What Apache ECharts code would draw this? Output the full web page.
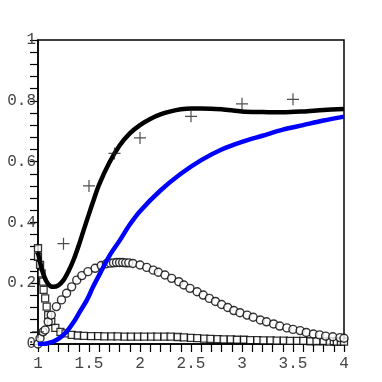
<!DOCTYPE html>
<html><head><meta charset="utf-8">
<script src="https://cdn.jsdelivr.net/npm/echarts@6/dist/echarts.min.js"></script>
<style>html,body{margin:0;padding:0;background:#fff}#c{width:382px;height:382px}</style>
</head><body><div id="c"></div>
<script>
// Black thick curve
const blackX = [1.0,1.05,1.1,1.15,1.2,1.25,1.3,1.35,1.4,1.45,1.5,1.55,1.6,1.7,1.8,1.9,2.0,2.1,2.2,2.3,2.4,2.5,2.6,2.8,3.0,3.2,3.4,3.6,3.8,4.0];
const blackY = [0.30,0.232,0.197,0.188,0.193,0.21,0.24,0.278,0.325,0.377,0.428,0.478,0.525,0.597,0.653,0.693,0.72,0.74,0.755,0.765,0.772,0.775,0.775,0.772,0.765,0.763,0.762,0.765,0.77,0.773];
// Blue thick curve
const blueX = [1.0,1.05,1.1,1.15,1.22,1.28,1.35,1.41,1.48,1.54,1.61,1.7,1.8,1.9,2.0,2.2,2.4,2.6,2.8,3.0,3.2,3.4,3.6,3.8,4.0];
const blueY = [0.0,0.0,0.003,0.008,0.022,0.04,0.072,0.106,0.145,0.188,0.233,0.29,0.34,0.393,0.437,0.505,0.56,0.605,0.64,0.665,0.685,0.705,0.72,0.735,0.748];
// Plus markers
const plusX = [1.0,1.25,1.5,1.75,2.0,2.5,3.0,3.5];
const plusY = [0.04,0.33,0.52,0.627,0.678,0.749,0.79,0.805];
// Circle markers
const circX = [1.0,1.02,1.05,1.07,1.10,1.13,1.18,1.23,1.28,1.33,1.38,1.43,1.49,1.56,1.62,1.67,1.71,1.74,1.77,1.80,1.83,1.86,1.89,1.93,2.0,2.066,2.13,2.18,2.245,2.31,2.38,2.43,2.49,2.56,2.62,2.68,2.74,2.80,2.86,2.92,2.98,3.05,3.11,3.18,3.24,3.31,3.37,3.44,3.50,3.57,3.63,3.70,3.76,3.82,3.89,3.96,4.0];
const circY = [0.0,0.019,0.04,0.046,0.073,0.095,0.123,0.145,0.167,0.188,0.21,0.225,0.238,0.249,0.258,0.264,0.266,0.267,0.268,0.268,0.268,0.267,0.267,0.265,0.26,0.252,0.243,0.236,0.227,0.216,0.205,0.194,0.183,0.172,0.161,0.15,0.14,0.13,0.12,0.11,0.103,0.095,0.088,0.079,0.073,0.066,0.059,0.053,0.048,0.044,0.038,0.033,0.030,0.026,0.024,0.021,0.019];
// Square markers
const sqX = [1.0,1.0,1.02,1.035,1.05,1.055,1.07,1.085,1.10,1.13,1.17,1.22,1.27,1.33,1.39,1.45,1.52,1.59,1.65,1.72,1.78,1.85,1.91,1.98,2.04,2.11,2.17,2.24,2.30,2.37,2.43,2.50,2.56,2.63,2.69,2.76,2.82,2.89,2.95,3.02,3.08,3.15,3.21,3.28,3.34,3.41,3.47,3.54,3.60,3.67,3.73,3.80,3.86,3.90,3.93,3.97,4.0];
const sqY = [0.315,0.287,0.26,0.232,0.205,0.178,0.15,0.123,0.095,0.073,0.053,0.04,0.035,0.03,0.028,0.027,0.026,0.026,0.025,0.025,0.025,0.024,0.024,0.024,0.024,0.024,0.024,0.024,0.024,0.023,0.022,0.02,0.019,0.018,0.017,0.016,0.015,0.015,0.014,0.014,0.013,0.013,0.012,0.012,0.011,0.011,0.010,0.010,0.010,0.009,0.009,0.009,0.008,0.009,0.008,0.008,0.008];

const pairs = (xs, ys) => xs.map((x, i) => [x, ys[i]]);
const labelFont = {fontFamily: 'Liberation Mono', fontSize: 16, color: '#444'};
const chart = echarts.init(document.getElementById('c'));
chart.setOption({
  animation: false,
  backgroundColor: '#fff',
  grid: {left: 38, right: 38, top: 40, bottom: 38, show: true, borderColor: '#000', borderWidth: 1.5},
  xAxis: {
    type: 'value', min: 1, max: 4, interval: 0.5,
    axisLine: {lineStyle: {color: '#000', width: 1.5}},
    axisTick: {length: 8, lineStyle: {color: '#000', width: 1.2}},
    minorTick: {show: true, splitNumber: 5, length: 8, lineStyle: {color: '#000', width: 1.2}},
    splitLine: {show: false},
    axisLabel: Object.assign({margin: 12}, labelFont)
  },
  yAxis: {
    type: 'value', min: 0, max: 1, interval: 0.2,
    axisLine: {lineStyle: {color: '#000', width: 1.5}},
    axisTick: {length: 8, lineStyle: {color: '#000', width: 1.2}},
    minorTick: {show: true, splitNumber: 5, length: 8, lineStyle: {color: '#000', width: 1.2}},
    splitLine: {show: false},
    axisLabel: Object.assign({margin: 2}, labelFont)
  },
  series: [
    {type: 'scatter', data: pairs(sqX, sqY), symbol: 'rect', symbolSize: 7,
     itemStyle: {color: '#fff', borderColor: '#000', borderWidth: 1.3}, z: 2},
    {type: 'scatter', data: pairs(circX, circY), symbol: 'circle', symbolSize: 8,
     itemStyle: {color: '#fff', borderColor: '#000', borderWidth: 1.4}, z: 3},
    {type: 'line', data: pairs(blackX, blackY), smooth: 0.3, showSymbol: false,
     lineStyle: {color: '#000', width: 4.5, join: 'round'}, z: 4},
    {type: 'line', data: pairs(blueX, blueY), smooth: 0.3, showSymbol: false,
     lineStyle: {color: '#0000ff', width: 4.5, join: 'round'}, z: 5},
    {type: 'scatter', data: pairs(plusX, plusY),
     symbol: 'path://M0,5.4L12,5.4L12,6.6L0,6.6Z M5.4,0L6.6,0L6.6,12L5.4,12Z', symbolSize: 12,
     itemStyle: {color: '#222'}, z: 6}
  ]
});
</script></body></html>
